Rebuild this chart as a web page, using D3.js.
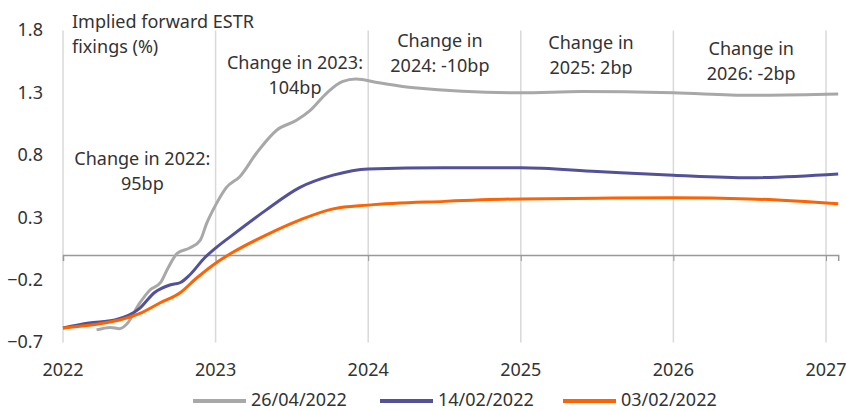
<!DOCTYPE html>
<html>
<head>
<meta charset="utf-8">
<script src="https://cdn.jsdelivr.net/npm/d3@7"></script>
<style>
  body { margin: 0; background: #fff; }
  svg text { font-family: "Noto Sans", sans-serif; fill: #333; font-size: 18px; }
</style>
</head>
<body>
<svg id="chart" width="846" height="411"></svg>
<script>
// x values are decimal years
const yearTicks = [2022, 2023, 2024, 2025, 2026, 2027];
const valueTicks = [-0.7, -0.2, 0.3, 0.8, 1.3, 1.8];

const apr26 = [
  [2022.22, -0.60], [2022.31, -0.58], [2022.37, -0.59], [2022.42, -0.55],
  [2022.50, -0.39], [2022.57, -0.28], [2022.64, -0.22], [2022.69, -0.10],
  [2022.75, 0.015], [2022.83, 0.056], [2022.90, 0.12], [2022.94, 0.25],
  [2023.00, 0.40], [2023.07, 0.54], [2023.16, 0.63], [2023.27, 0.82],
  [2023.40, 1.00], [2023.53, 1.08], [2023.62, 1.16], [2023.73, 1.30],
  [2023.83, 1.39], [2023.92, 1.41], [2024.07, 1.38], [2024.30, 1.34],
  [2025.00, 1.30], [2025.40, 1.31], [2026.00, 1.30], [2026.50, 1.28],
  [2027.08, 1.29]
];
const feb14 = [
  [2022.00, -0.585], [2022.17, -0.545], [2022.34, -0.52], [2022.50, -0.43],
  [2022.60, -0.30], [2022.70, -0.24], [2022.77, -0.22], [2022.83, -0.16],
  [2022.93, -0.02], [2023.00, 0.056], [2023.11, 0.16], [2023.33, 0.36],
  [2023.55, 0.54], [2023.77, 0.64], [2024.00, 0.69], [2024.50, 0.70],
  [2025.00, 0.70], [2025.50, 0.67], [2026.00, 0.64], [2026.50, 0.62],
  [2027.08, 0.65]
];
const feb03 = [
  [2022.00, -0.585], [2022.11, -0.57], [2022.24, -0.55], [2022.37, -0.52],
  [2022.50, -0.47], [2022.64, -0.38], [2022.77, -0.30], [2022.87, -0.19],
  [2023.00, -0.065], [2023.11, 0.02], [2023.33, 0.16], [2023.55, 0.28],
  [2023.77, 0.37], [2024.00, 0.40], [2024.50, 0.43], [2025.00, 0.45],
  [2025.50, 0.455], [2026.00, 0.46], [2026.50, 0.45], [2027.08, 0.41]
];

const seriesNames = ["26/04/2022", "14/02/2022", "03/02/2022"];
const seriesColors = ["#a8a8a8", "#525199", "#ff6200"];
const seriesData = [apr26, feb14, feb03];

const notes = [
  { lines: ["Change in 2022:", "95bp"], x: 2022.52, y: 0.72 },
  { lines: ["Change in 2023:", "104bp"], x: 2023.52, y: 1.49 },
  { lines: ["Change in", "2024: -10bp"], x: 2024.47, y: 1.67 },
  { lines: ["Change in", "2025: 2bp"], x: 2025.46, y: 1.65 },
  { lines: ["Change in", "2026: -2bp"], x: 2026.51, y: 1.60 }
];

const svg = d3.select("#chart");

const x = d3.scaleLinear().domain([2022, 2027.08]).range([63, 838.2]);
const y = d3.scaleLinear().domain([-0.7, 1.8]).range([342.4, 30.4]);

// vertical gridlines
svg.append("g")
  .selectAll("line")
  .data(yearTicks)
  .join("line")
  .attr("x1", d => x(d)).attr("x2", d => x(d))
  .attr("y1", y(1.8)).attr("y2", y(-0.7))
  .attr("stroke", "#d9d9d9")
  .attr("stroke-width", 1.5);

// zero axis with ticks
const xAxis = svg.append("g")
  .attr("transform", "translate(0," + y(0) + ")")
  .call(d3.axisBottom(x).tickValues(yearTicks).tickSize(6).tickFormat(""));
xAxis.select(".domain").attr("stroke", "#999").attr("stroke-width", 1.5);
xAxis.selectAll(".tick line").attr("stroke", "#999").attr("stroke-width", 1);

// year labels
svg.append("g")
  .selectAll("text")
  .data(yearTicks)
  .join("text")
  .attr("x", d => x(d))
  .attr("y", 376)
  .attr("text-anchor", "middle")
  .text(d => d);

// value labels
svg.append("g")
  .selectAll("text")
  .data(valueTicks)
  .join("text")
  .attr("x", 43)
  .attr("y", d => y(d) + 6)
  .attr("text-anchor", "end")
  .text(d => d3.format(".1f")(d));

// lines
const line = d3.line()
  .x(d => x(d[0]))
  .y(d => y(d[1]))
  .curve(d3.curveMonotoneX);

svg.append("g")
  .selectAll("path")
  .data(seriesData)
  .join("path")
  .attr("d", line)
  .attr("fill", "none")
  .attr("stroke", (d, i) => seriesColors[i])
  .attr("stroke-width", 3);

// axis title
const title = svg.append("text")
  .attr("x", 72)
  .attr("y", 28);
title.append("tspan").attr("x", 72).text("Implied forward ESTR");
title.append("tspan").attr("x", 72).attr("dy", 25).text("fixings (%)");

// annotations
notes.forEach(n => {
  let t = svg.append("text")
    .attr("x", x(n.x))
    .attr("y", y(n.y))
    .attr("text-anchor", "middle");
  n.lines.forEach((l, i) => {
    t.append("tspan").attr("x", x(n.x)).attr("dy", i === 0 ? 0 : 25).text(l);
  });
});

// legend
const legendX = [193, 380, 563];
const legend = svg.append("g")
  .selectAll("g")
  .data(seriesNames)
  .join("g")
  .attr("transform", (d, i) => "translate(" + legendX[i] + ",401)");

legend.append("line")
  .attr("x1", 0).attr("x2", 53)
  .attr("stroke", (d, i) => seriesColors[i])
  .attr("stroke-width", 4);

legend.append("text")
  .attr("x", 58)
  .attr("y", 5)
  .text(d => d);
</script>
</body>
</html>
